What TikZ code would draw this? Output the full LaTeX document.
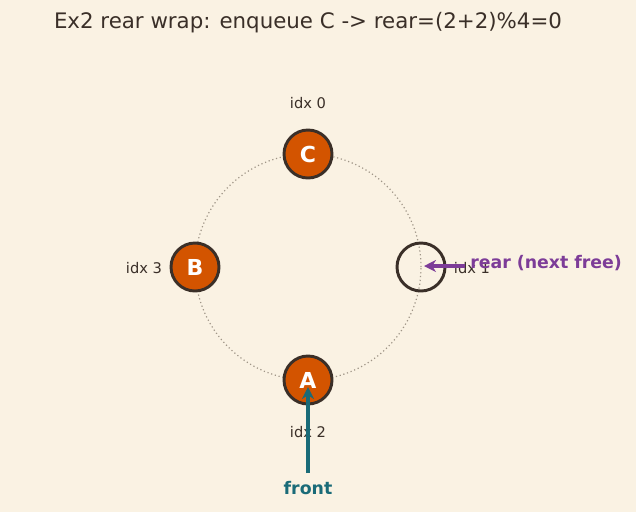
\documentclass[tikz,border=0pt]{standalone}
\usepackage{fontspec}
\setmainfont{DejaVu Sans}
\usetikzlibrary{arrows.meta,positioning}
\definecolor{paper}{HTML}{FAF2E3}
\definecolor{ink}{HTML}{3A2F28}
\definecolor{slotfill}{HTML}{D35400}
\definecolor{rearpurple}{HTML}{7D3C98}
\definecolor{frontteal}{HTML}{1A6B78}
\definecolor{ringgray}{HTML}{A09688}

\begin{document}
\begin{tikzpicture}[x=0.75pt,y=-0.75pt,
  slot/.style={circle,draw=ink,line width=2.2pt,minimum size=36pt,inner sep=0pt,
    font=\fontsize{16.5}{16.5}\selectfont\bfseries},
  full/.style={slot,fill=slotfill,text=white},
  idx/.style={font=\fontsize{11}{13}\selectfont,text=ink},
  ptr/.style={font=\fontsize{13}{15}\selectfont\bfseries},
  arr/.style={-{Stealth[length=9pt,width=9pt]},line width=2.8pt}]
  \fill[paper] (0,0) rectangle (636,512);
  \useasboundingbox (0,0) rectangle (636,512);
  \node[font=\fontsize{16}{18}\selectfont,text=ink] (title) at (308,23) {Ex2 rear wrap: enqueue C -> rear=(2+2)\%4=0};
  % ring of the circular buffer
  \draw[ringgray,line width=0.9pt,dash pattern=on 0.9pt off 2pt] (308,267) circle [radius=84.75pt];
  \node[full] (s0) at (308,154) {C};
  \node[slot] (s1) at (421,267) {};
  \node[full] (s2) at (308,380) {A};
  \node[full] (s3) at (195,267) {B};
  \node[idx] (i0) at (308,103) {idx 0};
  \node[idx] (i1) at (472,268) {idx 1};
  \node[idx] (i2) at (308,432) {idx 2};
  \node[idx] (i3) at (144,268) {idx 3};
  % pointers
  \node[ptr,text=rearpurple,anchor=west,inner sep=0pt] (rear) at (470,263) {rear (next free)};
  \node[ptr,text=frontteal,inner sep=0pt] (front) at (308,488) {front};
  \coordinate (reartip) at (424,266);
  \coordinate (fronttip) at (308,387);
  \draw[arr,rearpurple] ([xshift=-4pt]rear.west |- reartip) -- (reartip);
  \draw[arr,frontteal] ([yshift=6pt]front.north) -- (fronttip);
\end{tikzpicture}
\end{document}
